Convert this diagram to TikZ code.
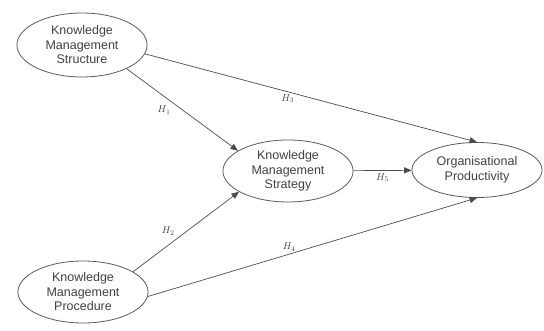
\documentclass[tikz,border=0pt]{standalone}
\usepackage{fontspec}
\setmainfont{Liberation Sans}
\usepackage{amsmath}
\usetikzlibrary{shapes,arrows}
\tikzstyle{construct} = [ellipse, draw=black!65, line width=0.8pt, text=black!75,
text width=92pt, align=center, inner sep=0pt, minimum width=130pt,
minimum height=64pt, font=\fontsize{12.5}{14.5}\selectfont]
\tikzstyle{line} = [draw=black!70, line width=0.7pt, -triangle 45]
\tikzstyle{hyp} = [inner sep=2.5pt, text=black!75, font=\fontsize{10}{12}\selectfont]

\begin{document}
\begin{tikzpicture}[x=1pt, y=-1pt]
\useasboundingbox (0,0) rectangle (544,331);

% Place nodes
\node [construct] (structure) at (82,45) {Knowledge\\Management\\Structure};
\node [construct, minimum height=62pt] (strategy) at (288,171) {Knowledge\\Management\\Strategy};
\node [construct, minimum height=55pt] (productivity) at (477,170) {Organisational\\Productivity};
\node [construct, minimum height=62pt] (procedure) at (83,292) {Knowledge\\Management\\Procedure};
% Draw edges
\path [line] (structure.-28) -- node [hyp, pos=0.42, below left] {$H_1$} (strategy.158);
\path [line] (procedure.22) -- node [hyp, pos=0.42, above left] {$H_2$} (strategy.-157);
\path [line] (structure.-8) -- node [hyp, pos=0.43, below] {$H_3$} (productivity.90);
\path [line] (procedure.-4) -- node [hyp, pos=0.43, above] {$H_4$} (productivity.-90);
\path [line] (strategy) -- node [hyp, below] {$H_5$} (productivity);
\end{tikzpicture}
\end{document}
